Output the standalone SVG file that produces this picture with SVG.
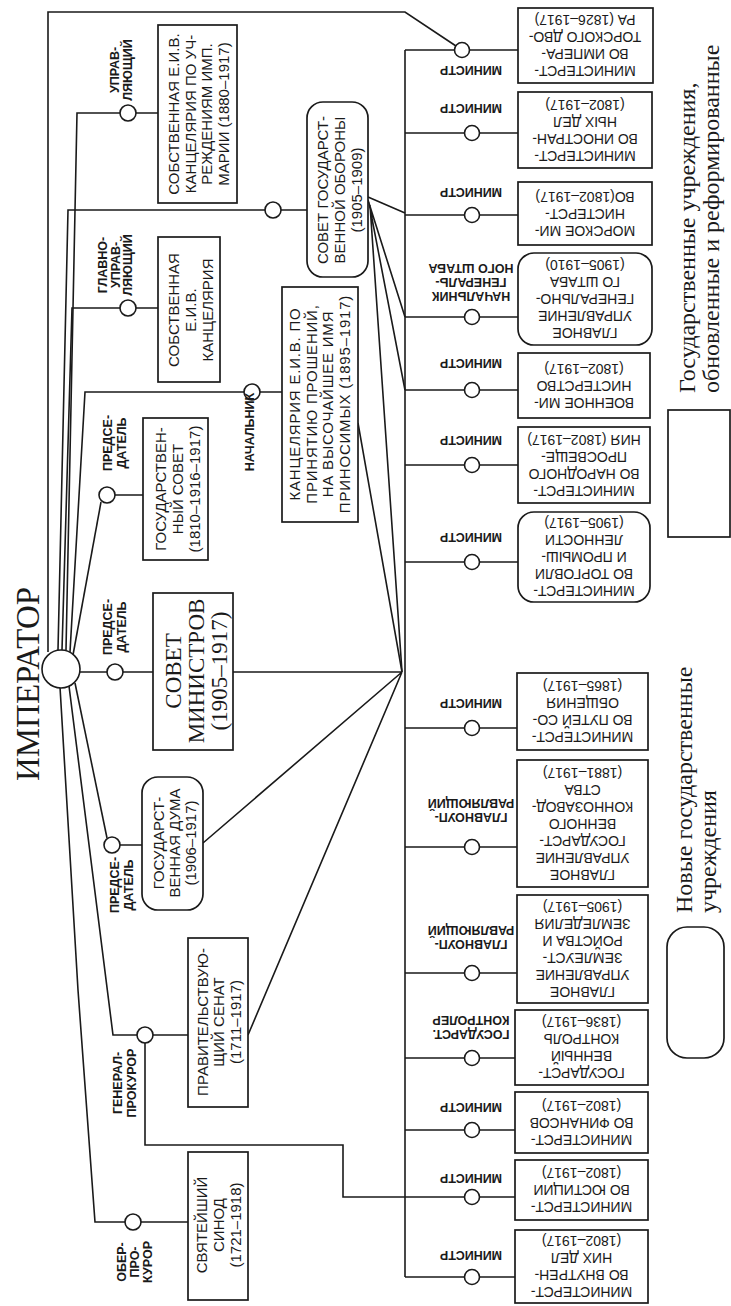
<svg xmlns="http://www.w3.org/2000/svg" width="731" height="1306" viewBox="0 0 731 1306">
<style>
.bx{fill:#fff;stroke:#1a1a1a;stroke-width:1.7}
.ci{fill:#fff;stroke:#1a1a1a;stroke-width:1.6}
.ln{fill:none;stroke:#1a1a1a;stroke-width:1.6}
.t{font-family:"Liberation Sans",Arial,sans-serif;font-size:14px;fill:#1a1a1a;text-anchor:middle;dominant-baseline:central}
.tl{font-family:"Liberation Sans",Arial,sans-serif;font-size:15px;fill:#1a1a1a;text-anchor:middle;dominant-baseline:central}
.lb{font-family:"Liberation Sans",Arial,sans-serif;font-size:12.5px;font-weight:bold;fill:#1a1a1a;text-anchor:middle;dominant-baseline:central}
.s{font-family:"Liberation Serif","Times New Roman",serif;fill:#1a1a1a;text-anchor:middle;dominant-baseline:central}
.lg{font-family:"Liberation Serif","Times New Roman",serif;font-size:24px;fill:#1a1a1a;dominant-baseline:central}
</style>
<rect width="731" height="1306" fill="#fff"/>

<g id="connectors" class="ln">
<path d="M48,652 L48,12 L405,12 L456,46"/>
<path d="M66,650 L77,113 L120,113"/>
<path d="M58,650 L68,210 L265,210"/>
<path d="M62,650 L72,308 L120,308"/>
<path d="M73,655 L101,502"/>
<path d="M70,652 L85,392 L244,392"/>
<path d="M79,672 L107,672 M123,672 L153,672"/>
<path d="M75,683 L107,838"/>
<path d="M69,686 L113,1035 L137,1035"/>
<path d="M60,687 L78,990 L95,1222 L125,1222"/>
<path d="M136,113 L158,113 M136,308 L158,308 M281,210 L307,210 M115,495 L143,495 M260,392 L282,392 M120,845 L142,845 M153,1035 L188,1035 M141,1222 L188,1222"/>
<path d="M145,1043 L145,1145 L343,1145 L343,1197 L405,1197"/>
<path d="M233,672 L402,672 M203,843 L402,672 M248,1035 L402,672 M358,423 L402,672"/>
<path d="M368,197 L405,213 M368,200 L405,317 M369,203 L405,390 M370,205 L402,672"/>
<path d="M405,50 L405,1277"/>
<path d="M405,50 L518,50 M405,133 L518,133 M405,215 L518,215 M405,317 L518,317 M405,390 L518,390 M405,465 L518,465 M405,562 L518,562 M405,728 L517,728 M405,847 L517,847 M405,973 L517,973 M405,1058 L515,1058 M405,1130 L515,1130 M405,1197 L515,1197 M405,1277 L515,1277"/>
</g>

<g id="emperor">
<circle class="ci" cx="61" cy="669" r="19"/>
<text class="s" font-size="33" transform="rotate(-90 28 684)"><tspan x="28" y="684">ИМПЕРАТОР</tspan></text>
</g>

<g id="circles">
<circle class="ci" cx="128" cy="113" r="8"/>
<circle class="ci" cx="128" cy="308" r="8"/>
<circle class="ci" cx="273" cy="210" r="8"/>
<circle class="ci" cx="107" cy="495" r="8"/>
<circle class="ci" cx="252" cy="392" r="8"/>
<circle class="ci" cx="115" cy="672" r="8"/>
<circle class="ci" cx="112" cy="845" r="8"/>
<circle class="ci" cx="145" cy="1035" r="8"/>
<circle class="ci" cx="133" cy="1222" r="8"/>
<circle class="ci" cx="462" cy="50" r="7.5"/>
<circle class="ci" cx="472" cy="133" r="7.5"/>
<circle class="ci" cx="472" cy="215" r="7.5"/>
<circle class="ci" cx="472" cy="317" r="7.5"/>
<circle class="ci" cx="472" cy="390" r="7.5"/>
<circle class="ci" cx="472" cy="465" r="7.5"/>
<circle class="ci" cx="472" cy="562" r="7.5"/>
<circle class="ci" cx="472" cy="728" r="7.5"/>
<circle class="ci" cx="472" cy="847" r="7.5"/>
<circle class="ci" cx="472" cy="973" r="7.5"/>
<circle class="ci" cx="472" cy="1058" r="7.5"/>
<circle class="ci" cx="472" cy="1130" r="7.5"/>
<circle class="ci" cx="472" cy="1197" r="7.5"/>
<circle class="ci" cx="472" cy="1277" r="7.5"/>
</g>

<g id="left-labels">
<text class="lb" transform="rotate(-90 121.5 70)"><tspan x="121.5" y="63.5">УПРАВ-</tspan><tspan x="121.5" y="76.5">ЛЯЮЩИЙ</tspan></text>
<text class="lb" transform="rotate(-90 115.5 265)"><tspan x="115.5" y="252.5">ГЛАВНО-</tspan><tspan x="115.5" y="265">УПРАВ-</tspan><tspan x="115.5" y="277.5">ЛЯЮЩИЙ</tspan></text>
<text class="lb" transform="rotate(-90 115 443)"><tspan x="115" y="436">ПРЕДСЕ-</tspan><tspan x="115" y="450">ДАТЕЛЬ</tspan></text>
<text class="lb" transform="rotate(-90 250 432)"><tspan x="250" y="432">НАЧАЛЬНИК</tspan></text>
<text class="lb" transform="rotate(-90 115 627)"><tspan x="115" y="620">ПРЕДСЕ-</tspan><tspan x="115" y="634">ДАТЕЛЬ</tspan></text>
<text class="lb" transform="rotate(-90 121.5 885)"><tspan x="121.5" y="878">ПРЕДСЕ-</tspan><tspan x="121.5" y="892">ДАТЕЛЬ</tspan></text>
<text class="lb" transform="rotate(-90 125 1083)"><tspan x="125" y="1076">ГЕНЕРАЛ-</tspan><tspan x="125" y="1090">ПРОКУРОР</tspan></text>
<text class="lb" transform="rotate(-90 135 1262)"><tspan x="135" y="1249">ОБЕР-</tspan><tspan x="135" y="1262">ПРО-</tspan><tspan x="135" y="1275">КУРОР</tspan></text>
</g>

<g id="n-maria">
<rect class="bx" x="158" y="25" width="79" height="178"/>
<text class="tl" transform="rotate(-90 198 114)"><tspan x="198" y="89">СОБСТВЕННАЯ Е.И.В.</tspan><tspan x="198" y="105.7">КАНЦЕЛЯРИЯ ПО УЧ-</tspan><tspan x="198" y="122.3">РЕЖДЕНИЯМ ИМП.</tspan><tspan x="198" y="139">МАРИИ (1880–1917)</tspan></text>
</g>
<g id="n-kanc">
<rect class="bx" x="158" y="237" width="62" height="145"/>
<text class="tl" transform="rotate(-90 190 310)"><tspan x="190" y="293">СОБСТВЕННАЯ</tspan><tspan x="190" y="310">Е.И.В.</tspan><tspan x="190" y="327">КАНЦЕЛЯРИЯ</tspan></text>
</g>
<g id="n-sgo">
<rect class="bx" x="307" y="102" width="61" height="175" rx="16"/>
<text class="tl" transform="rotate(-90 339 190)"><tspan x="339" y="173">СОВЕТ ГОСУДАРСТ-</tspan><tspan x="339" y="190">ВЕННОЙ ОБОРОНЫ</tspan><tspan x="339" y="207">(1905–1909)</tspan></text>
</g>
<g id="n-gossovet">
<rect class="bx" x="143" y="418" width="65" height="142"/>
<text class="tl" transform="rotate(-90 177 489)"><tspan x="177" y="472">ГОСУДАРСТВЕН-</tspan><tspan x="177" y="489">НЫЙ СОВЕТ</tspan><tspan x="177" y="506">(1810–1916–1917)</tspan></text>
</g>
<g id="n-proshenia">
<rect class="bx" x="282" y="287" width="76" height="235"/>
<text class="tl" font-size="16" letter-spacing="0.8" transform="rotate(-90 319 404)"><tspan x="319" y="379.25">КАНЦЕЛЯРИЯ Е.И.В. ПО</tspan><tspan x="319" y="395.75">ПРИНЯТИЮ ПРОШЕНИЙ,</tspan><tspan x="319" y="412.25">НА ВЫСОЧАЙШЕЕ ИМЯ</tspan><tspan x="319" y="428.75">ПРИНОСИМЫХ (1895–1917)</tspan></text>
</g>
<g id="n-sovmin">
<rect class="bx" x="153" y="593" width="80" height="157"/>
<text class="s" font-size="23" transform="rotate(-90 196 671)"><tspan x="196" y="648">СОВЕТ</tspan><tspan x="196" y="671">МИНИСТРОВ</tspan><tspan x="196" y="694">(1905–1917)</tspan></text>
</g>
<g id="n-duma">
<rect class="bx" x="142" y="777" width="61" height="133" rx="16"/>
<text class="tl" transform="rotate(-90 174 843)"><tspan x="174" y="827">ГОСУДАРСТ-</tspan><tspan x="174" y="843">ВЕННАЯ ДУМА</tspan><tspan x="174" y="859">(1906–1917)</tspan></text>
</g>
<g id="n-senat">
<rect class="bx" x="188" y="938" width="60" height="169"/>
<text class="tl" transform="rotate(-90 218 1022)"><tspan x="218" y="1005.5">ПРАВИТЕЛЬСТВУЮ-</tspan><tspan x="218" y="1022">ЩИЙ СЕНАТ</tspan><tspan x="218" y="1038.5">(1711–1917)</tspan></text>
</g>
<g id="n-sinod">
<rect class="bx" x="188" y="1152" width="60" height="148"/>
<text class="tl" transform="rotate(-90 218 1225)"><tspan x="218" y="1208">СВЯТЕЙШИЙ</tspan><tspan x="218" y="1225">СИНОД</tspan><tspan x="218" y="1242">(1721–1918)</tspan></text>
</g>

<g id="right-labels">
<text class="lb" transform="rotate(180 471 70)"><tspan x="471" y="70">МИНИСТР</tspan></text>
<text class="lb" transform="rotate(180 471 108)"><tspan x="471" y="108">МИНИСТР</tspan></text>
<text class="lb" transform="rotate(180 471 192)"><tspan x="471" y="192">МИНИСТР</tspan></text>
<text class="lb" transform="rotate(180 471 282)"><tspan x="471" y="268">НАЧАЛЬНИК</tspan><tspan x="471" y="282">ГЕНЕРАЛЬ-</tspan><tspan x="471" y="296">НОГО ШТАБА</tspan></text>
<text class="lb" transform="rotate(180 471 363)"><tspan x="471" y="363">МИНИСТР</tspan></text>
<text class="lb" transform="rotate(180 471 440)"><tspan x="471" y="440">МИНИСТР</tspan></text>
<text class="lb" transform="rotate(180 471 537)"><tspan x="471" y="537">МИНИСТР</tspan></text>
<text class="lb" transform="rotate(180 471 703)"><tspan x="471" y="703">МИНИСТР</tspan></text>
<text class="lb" transform="rotate(180 471 810)"><tspan x="471" y="803">ГЛАВНОУП-</tspan><tspan x="471" y="817">РАВЛЯЮЩИЙ</tspan></text>
<text class="lb" transform="rotate(180 471 937)"><tspan x="471" y="930">ГЛАВНОУП-</tspan><tspan x="471" y="944">РАВЛЯЮЩИЙ</tspan></text>
<text class="lb" transform="rotate(180 471 1027)"><tspan x="471" y="1020">ГОСУДАРСТ.</tspan><tspan x="471" y="1034">КОНТРОЛЕР</tspan></text>
<text class="lb" transform="rotate(180 471 1107)"><tspan x="471" y="1107">МИНИСТР</tspan></text>
<text class="lb" transform="rotate(180 471 1178)"><tspan x="471" y="1178">МИНИСТР</tspan></text>
<text class="lb" transform="rotate(180 471 1255)"><tspan x="471" y="1255">МИНИСТР</tspan></text>
</g>

<g id="m-dvor">
<rect class="bx" x="518" y="8" width="135" height="75"/>
<text class="t" transform="rotate(180 585 45.5)"><tspan x="585" y="20">МИНИСТЕРСТ-</tspan><tspan x="585" y="37">ВО ИМПЕРА-</tspan><tspan x="585" y="54">ТОРСКОГО ДВО-</tspan><tspan x="585" y="71">РА (1826–1917)</tspan></text>
</g>
<g id="m-inostr">
<rect class="bx" x="518" y="92" width="134" height="76"/>
<text class="t" transform="rotate(180 585 130)"><tspan x="585" y="104.5">МИНИСТЕРСТ-</tspan><tspan x="585" y="121.5">ВО ИНОСТРАН-</tspan><tspan x="585" y="138.5">НЫХ ДЕЛ</tspan><tspan x="585" y="155.5">(1802–1917)</tspan></text>
</g>
<g id="m-more">
<rect class="bx" x="518" y="182" width="134" height="63"/>
<text class="t" transform="rotate(180 585 213.5)"><tspan x="585" y="196.5">МОРСКОЕ МИ-</tspan><tspan x="585" y="213.5">НИСТЕРСТ-</tspan><tspan x="585" y="230.5">ВО(1802–1917)</tspan></text>
</g>
<g id="m-genshtab">
<rect class="bx" x="518" y="253" width="134" height="92" rx="16"/>
<text class="t" transform="rotate(180 585 299)"><tspan x="585" y="265">ГЛАВНОЕ</tspan><tspan x="585" y="282">УПРАВЛЕНИЕ</tspan><tspan x="585" y="299">ГЕНЕРАЛЬНО-</tspan><tspan x="585" y="316">ГО ШТАБА</tspan><tspan x="585" y="333">(1905–1910)</tspan></text>
</g>
<g id="m-voen">
<rect class="bx" x="518" y="353" width="132" height="65"/>
<text class="t" transform="rotate(180 584 385.5)"><tspan x="584" y="368.5">ВОЕННОЕ МИ-</tspan><tspan x="584" y="385.5">НИСТЕРСТВО</tspan><tspan x="584" y="402.5">(1802–1917)</tspan></text>
</g>
<g id="m-prosv">
<rect class="bx" x="518" y="427" width="132" height="76"/>
<text class="t" transform="rotate(180 584 465)"><tspan x="584" y="439.5">МИНИСТЕРСТ-</tspan><tspan x="584" y="456.5">ВО НАРОДНОГО</tspan><tspan x="584" y="473.5">ПРОСВЕЩЕ-</tspan><tspan x="584" y="490.5">НИЯ (1802–1917)</tspan></text>
</g>
<g id="m-torg">
<rect class="bx" x="518" y="512" width="132" height="90" rx="16"/>
<text class="t" transform="rotate(180 584 557)"><tspan x="584" y="523">МИНИСТЕРСТ-</tspan><tspan x="584" y="540">ВО ТОРГОВЛИ</tspan><tspan x="584" y="557">И ПРОМЫШ-</tspan><tspan x="584" y="574">ЛЕННОСТИ</tspan><tspan x="584" y="591">(1905–1917)</tspan></text>
</g>
<g id="m-putey">
<rect class="bx" x="517" y="673" width="131" height="77"/>
<text class="t" transform="rotate(180 582.5 711.5)"><tspan x="582.5" y="686">МИНИСТЕРСТ-</tspan><tspan x="582.5" y="703">ВО ПУТЕЙ СО-</tspan><tspan x="582.5" y="720">ОБЩЕНИЯ</tspan><tspan x="582.5" y="737">(1865–1917)</tspan></text>
</g>
<g id="m-konno">
<rect class="bx" x="517" y="760" width="131" height="127"/>
<text class="t" transform="rotate(180 582.5 823.5)"><tspan x="582.5" y="772.5">ГЛАВНОЕ</tspan><tspan x="582.5" y="789.5">УПРАВЛЕНИЕ</tspan><tspan x="582.5" y="806.5">ГОСУДАРСТ-</tspan><tspan x="582.5" y="823.5">ВЕННОГО</tspan><tspan x="582.5" y="840.5">КОННОЗАВОД-</tspan><tspan x="582.5" y="857.5">СТВА</tspan><tspan x="582.5" y="874.5">(1881–1917)</tspan></text>
</g>
<g id="m-zemle">
<rect class="bx" x="517" y="895" width="131" height="108"/>
<text class="t" transform="rotate(180 582.5 949)"><tspan x="582.5" y="906.5">ГЛАВНОЕ</tspan><tspan x="582.5" y="923.5">УПРАВЛЕНИЕ</tspan><tspan x="582.5" y="940.5">ЗЕМЛЕУСТ-</tspan><tspan x="582.5" y="957.5">РОЙСТВА И</tspan><tspan x="582.5" y="974.5">ЗЕМЛЕДЕЛИЯ</tspan><tspan x="582.5" y="991.5">(1905–1917)</tspan></text>
</g>
<g id="m-kontrol">
<rect class="bx" x="515" y="1010" width="133" height="75"/>
<text class="t" transform="rotate(180 581.5 1047.5)"><tspan x="581.5" y="1022">ГОСУДАРСТ-</tspan><tspan x="581.5" y="1039">ВЕННЫЙ</tspan><tspan x="581.5" y="1056">КОНТРОЛЬ</tspan><tspan x="581.5" y="1073">(1836–1917)</tspan></text>
</g>
<g id="m-fin">
<rect class="bx" x="515" y="1092" width="133" height="61"/>
<text class="t" transform="rotate(180 581.5 1122.5)"><tspan x="581.5" y="1105.5">МИНИСТЕРСТ-</tspan><tspan x="581.5" y="1122.5">ВО ФИНАНСОВ</tspan><tspan x="581.5" y="1139.5">(1802–1917)</tspan></text>
</g>
<g id="m-just">
<rect class="bx" x="515" y="1160" width="133" height="60"/>
<text class="t" transform="rotate(180 581.5 1190)"><tspan x="581.5" y="1173">МИНИСТЕРСТ-</tspan><tspan x="581.5" y="1190">ВО ЮСТИЦИИ</tspan><tspan x="581.5" y="1207">(1802–1917)</tspan></text>
</g>
<g id="m-vnutr">
<rect class="bx" x="515" y="1230" width="133" height="73"/>
<text class="t" transform="rotate(180 581.5 1266.5)"><tspan x="581.5" y="1241">МИНИСТЕРСТ-</tspan><tspan x="581.5" y="1258">ВО ВНУТРЕН-</tspan><tspan x="581.5" y="1275">НИХ ДЕЛ</tspan><tspan x="581.5" y="1292">(1802–1917)</tspan></text>
</g>

<g id="legend">
<text class="lg" transform="rotate(-90 687 393)"><tspan x="687" y="393">Государственные учреждения,</tspan><tspan x="687" y="417">обновленные и реформированные</tspan></text>
<rect class="bx" x="668" y="410" width="62" height="127"/>
<text class="lg" transform="rotate(-90 684 913)"><tspan x="684" y="913">Новые государственные</tspan><tspan x="684" y="937">учреждения</tspan></text>
<rect class="bx" x="667" y="927" width="57" height="131" rx="20"/>
</g>
</svg>
